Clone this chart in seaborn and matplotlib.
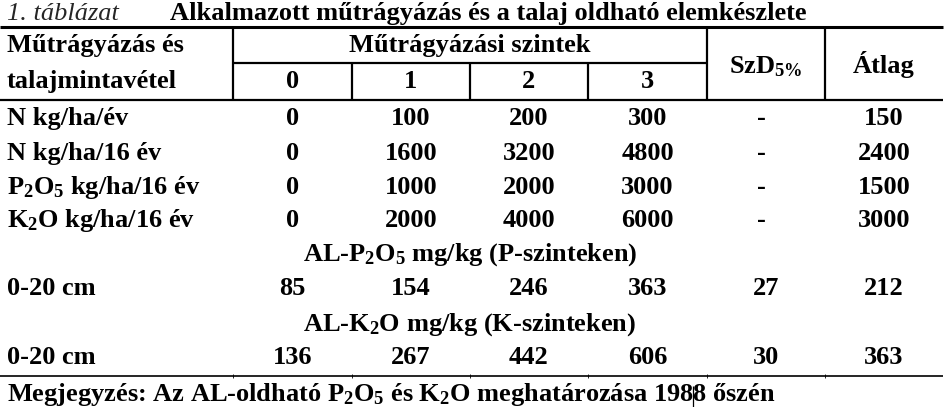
import matplotlib
matplotlib.use("Agg")
import matplotlib.pyplot as plt
import seaborn as sns

# table content
title_no = "1. táblázat"
title = "Alkalmazott műtrágyázás és a talaj oldható elemkészlete"
head_left = ["Műtrágyázás és", "talajmintavétel"]
head_levels = "Műtrágyázási szintek"
levels = ["0", "1", "2", "3"]
head_szd = "SzD$_{5\\%}$"
head_avg = "Átlag"

rate_labels = ["N kg/ha/év", "N kg/ha/16 év", "P$_2$O$_5$ kg/ha/16 év", "K$_2$O kg/ha/16 év"]
rate_values = [[0, 100, 200, 300],
               [0, 1600, 3200, 4800],
               [0, 1000, 2000, 3000],
               [0, 2000, 4000, 6000]]
rate_szd = ["-", "-", "-", "-"]
rate_avg = [150, 2400, 1500, 3000]

soil_titles = ["AL-P$_2$O$_5$ mg/kg (P-szinteken)", "AL-K$_2$O mg/kg (K-szinteken)"]
soil_depth = ["0-20 cm", "0-20 cm"]
soil_values = [[85, 154, 246, 363], [136, 267, 442, 606]]
soil_szd = [27, 30]
soil_avg = [212, 363]

note = "Megjegyzés: Az AL-oldható P$_2$O$_5$ és K$_2$O meghatározása 1988 őszén"

sns.set_theme(style="white")
plt.rcParams["font.family"] = ["Liberation Serif", "DejaVu Serif"]
plt.rcParams["mathtext.fontset"] = "custom"
plt.rcParams["mathtext.rm"] = "Liberation Serif:bold"
plt.rcParams["mathtext.bf"] = "Liberation Serif:bold"
plt.rcParams["mathtext.it"] = "Liberation Serif:bold"
plt.rcParams["mathtext.default"] = "rm"

W, H = 948, 407
fig = plt.figure(figsize=(W / 100, H / 100), dpi=100)
ax = fig.add_axes([0, 0, 1, 1])
ax.set_xlim(0, W)
ax.set_ylim(H, 0)
ax.axis("off")

fs = 19
txt = dict(fontsize=fs, fontweight="bold", color="black")

# column layout
col_edges = [233, 352, 470, 588, 707, 825, 943]
col_mid = [(a + b) / 2 for a, b in zip(col_edges[:-1], col_edges[1:])]
lw = 1.6

# title
ax.text(7, 20, title_no, fontsize=fs, style="italic", va="baseline")
ax.text(170, 20, title, va="baseline", **txt)

# rules
ax.hlines(27, 0, 943, color="black", lw=2.2)
ax.hlines(63, col_edges[0], col_edges[4], color="black", lw=lw)
ax.hlines(100, 0, 943, color="black", lw=lw)
ax.vlines([col_edges[0], col_edges[4], col_edges[5]], 27, 100, color="black", lw=lw)
ax.vlines(col_edges[1:4], 63, 100, color="black", lw=lw)
ax.hlines(376, 0, 943, color="black", lw=1.2)
ax.vlines(col_edges[:6], 374, 378, color="black", lw=0.6)
ax.vlines(693, 386, 407, color="black", lw=0.9)

# header
ax.text(7, 52, head_left[0], va="baseline", **txt)
ax.text(7, 88, head_left[1], va="baseline", **txt)
ax.text((col_edges[0] + col_edges[4]) / 2, 52, head_levels, ha="center", va="baseline", **txt)
for x, lev in zip(col_mid[:4], levels):
    ax.text(x, 88, lev, ha="center", va="baseline", **txt)
ax.text(col_mid[4], 73, head_szd, ha="center", va="baseline", **txt)
ax.text(col_mid[5], 73, head_avg, ha="center", va="baseline", **txt)

# fertiliser rates
rate_y = [125, 160, 194, 227]
for y, lab, vals, szd, avg in zip(rate_y, rate_labels, rate_values, rate_szd, rate_avg):
    ax.text(7, y, lab, va="baseline", **txt)
    for x, v in zip(col_mid[:4], vals):
        ax.text(x, y, str(v), ha="center", va="baseline", **txt)
    ax.text(col_mid[4] - 5, y, szd, ha="center", va="baseline", **txt)
    ax.text(col_mid[5], y, str(avg), ha="center", va="baseline", **txt)

# soil nutrient content
title_y = [261, 331]
val_y = [295, 364]
for ty, vy, st, dep, vals, szd, avg in zip(title_y, val_y, soil_titles, soil_depth,
                                            soil_values, soil_szd, soil_avg):
    ax.text((col_edges[0] + col_edges[4]) / 2, ty, st, ha="center", va="baseline", **txt)
    ax.text(7, vy, dep, va="baseline", **txt)
    for x, v in zip(col_mid[:4], vals):
        ax.text(x, vy, str(v), ha="center", va="baseline", **txt)
    ax.text(col_mid[4], vy, str(szd), ha="center", va="baseline", **txt)
    ax.text(col_mid[5], vy, str(avg), ha="center", va="baseline", **txt)

ax.text(7, 401, note, va="baseline", **txt)

fig.savefig("out.png", dpi=100)
